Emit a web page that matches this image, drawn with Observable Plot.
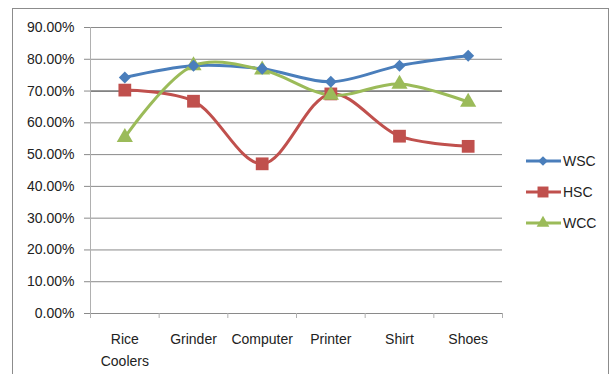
<!DOCTYPE html>
<html>
<head>
<meta charset="utf-8">
<script src="https://cdn.jsdelivr.net/npm/d3@7"></script>
<script src="https://cdn.jsdelivr.net/npm/@observablehq/plot@0.6"></script>
<style>
  html, body { margin: 0; padding: 0; background: #fff; }
  #wrap { position: relative; width: 611px; height: 374px; overflow: hidden; font-family: "Liberation Sans", Arial, sans-serif; }
  #border { position: absolute; left: 12px; top: 8px; width: 597px; height: 400px; border: 1px solid #8c8c8c; box-sizing: border-box; }
  #chart { position: absolute; left: 0; top: 0; }
  #legend { position: absolute; left: 526px; top: 145px; font-size: 14px; color: #222; }
  .item { display: flex; align-items: center; height: 31px; }
  .item svg { margin-right: 1px; }
</style>
</head>
<body>
<div id="wrap">
  <div id="border"></div>
  <div id="chart"></div>
  <div id="legend"></div>
</div>
<script>
const categories = ["Rice\nCoolers", "Grinder", "Computer", "Printer", "Shirt", "Shoes"];
const seriesNames = ["WSC", "HSC", "WCC"];
const wsc = [74.3, 78.0, 77.0, 72.9, 78.0, 81.1];
const hsc = [70.3, 66.8, 47.1, 69.1, 55.8, 52.6];
const wcc = [55.4, 78.0, 76.7, 68.7, 72.2, 66.5];
const yTicks = [0, 0.1, 0.2, 0.3, 0.4, 0.5, 0.6, 0.7, 0.8, 0.9];

const colors = {WSC: "#4a7ebb", HSC: "#c0504d", WCC: "#9bbb59"};
const symbols = {WSC: "diamond2", HSC: "square", WCC: "triangle"};
const radii = {WSC: 5.4, HSC: 7.2, WCC: 6.0};

const valuesBy = {WSC: wsc, HSC: hsc, WCC: wcc};
const data = seriesNames.flatMap(s => valuesBy[s].map((v, i) => ({series: s, idx: i + 0.5, value: v / 100})));

const boundaries = d3.range(categories.length + 1);
const centers = categories.map((c, i) => i + 0.5);

const plot = Plot.plot({
  width: 611,
  height: 374,
  marginLeft: 90,
  marginRight: 109,
  marginTop: 27,
  marginBottom: 61,
  style: {fontFamily: "'Liberation Sans', Arial, sans-serif", fontSize: "14px", color: "#222", background: "transparent"},
  x: {type: "linear", domain: [0, categories.length]},
  y: {domain: [0, 0.9]},
  marks: [
    Plot.gridY(yTicks, {stroke: "#8a8a8a", strokeOpacity: 1, strokeWidth: 1}),
    Plot.ruleY([0.7], {stroke: "#6e6e6e", strokeWidth: 1.3}),
    Plot.ruleX([0], {stroke: "#b0b0b0", strokeWidth: 1}),
    Plot.axisY({ticks: yTicks, tickFormat: d3.format(".2%"), tickSize: 6, tickPadding: 10, stroke: "#8a8a8a", label: null, fill: "#222"}),
    Plot.axisX({ticks: boundaries, tickFormat: () => "", tickSize: 5, stroke: "#b0b0b0", label: null}),
    Plot.axisX({ticks: centers, tickFormat: (d) => categories[Math.floor(d)], tickSize: 0, tickPadding: 15, lineHeight: 1.55, label: null, fill: "#222"}),
    Plot.line(data, {x: "idx", y: "value", z: "series", stroke: d => colors[d.series], strokeWidth: 3, curve: "catmull-rom"}),
    Plot.dot(data, {x: "idx", y: "value", symbol: d => symbols[d.series], fill: d => colors[d.series], r: d => radii[d.series], stroke: "none"})
  ],
  symbol: {type: "identity"},
  r: {type: "identity"},
  color: {type: "identity"}
});
document.getElementById("chart").appendChild(plot);

// Legend
const legend = document.getElementById("legend");
for (const s of seriesNames) {
  const item = document.createElement("div");
  item.className = "item";
  const svg = d3.create("svg").attr("width", 36).attr("height", 16);
  svg.append("line").attr("x1", 0).attr("x2", 35).attr("y1", 8).attr("y2", 8).attr("stroke", colors[s]).attr("stroke-width", 3);
  const sym = s === "WSC" ? d3.symbolDiamond2 : s === "HSC" ? d3.symbolSquare : d3.symbolTriangle;
  const size = s === "WSC" ? 60 : s === "HSC" ? 120 : 70;
  svg.append("path").attr("d", d3.symbol(sym, size)()).attr("transform", "translate(17,8)").attr("fill", colors[s]);
  item.appendChild(svg.node());
  const t = document.createElement("span");
  t.textContent = s;
  item.appendChild(t);
  legend.appendChild(item);
}
</script>
</body>
</html>
